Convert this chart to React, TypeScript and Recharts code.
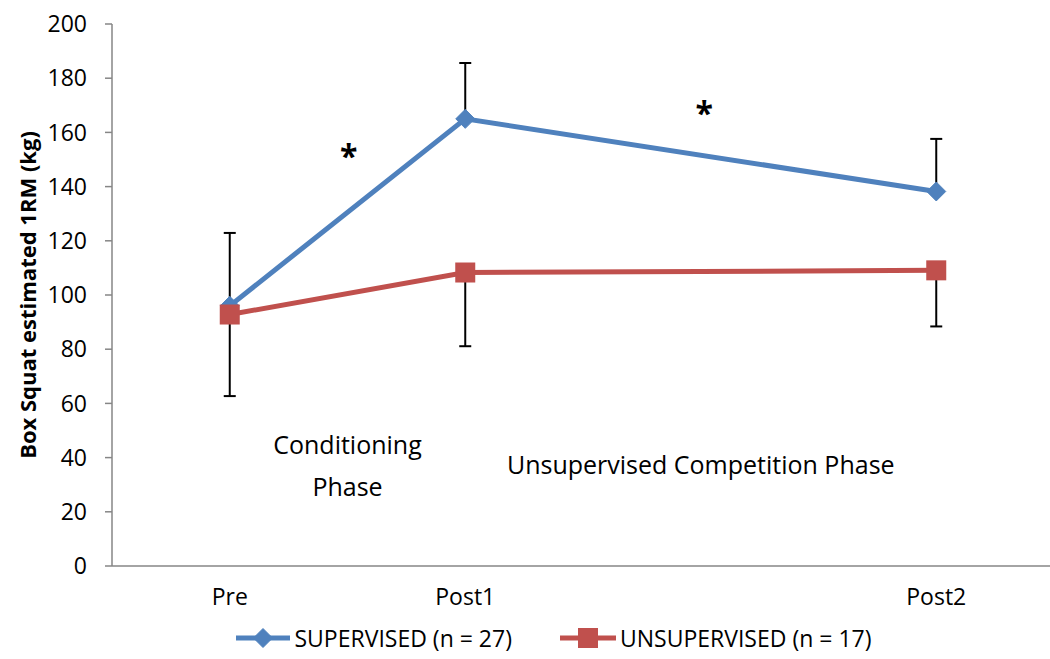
import React from 'react';
import { ComposedChart, Line, XAxis, YAxis, ErrorBar, ReferenceDot, Legend } from 'recharts';

const categories = ['Pre', 'Post1', '', 'Post2'];
const categoryIndex = [0, 1, 3];
const supervised = [96, 165, 138.2];
const supervisedSD = [26.9, 20.6, 19.4];
const unsupervised = [92.8, 108.3, 109.1];
const unsupervisedSD = [30.1, 27.2, 20.7];
const yTicks = [0, 20, 40, 60, 80, 100, 120, 140, 160, 180, 200];
const boundaryTicks = [-0.5, 0.5, 1.5, 2.5, 3.5];
const labelTicks = [0, 1, 2, 3];

const annotationX = [0.505, 2.015, 0.5, 0.5, 2.0];
const annotationY = [153, 169, 45, 29.5, 37.6];
const annotationText = ['*', '*', 'Conditioning', 'Phase', 'Unsupervised Competition Phase'];
const annotationBold = [true, true, false, false, false];

const FONT = '"Open Sans", sans-serif';
const BLUE = '#4F81BD';
const RED = '#C0504D';
const AXIS = '#868686';

const rows = categoryIndex.map((x, i) => ({
  x,
  sup: supervised[i],
  supErr: [0, supervisedSD[i]],
  unsup: unsupervised[i],
  unsupErr: [unsupervisedSD[i], 0],
}));

const Diamond = (props: any) => {
  const { cx, cy } = props;
  if (cx == null || cy == null) return null;
  const r = 9.5;
  return <polygon points={`${cx},${cy - r} ${cx + r},${cy} ${cx},${cy + r} ${cx - r},${cy}`} fill={BLUE} stroke={BLUE} strokeWidth={1} />;
};

const Square = (props: any) => {
  const { cx, cy } = props;
  if (cx == null || cy == null) return null;
  const h = 10;
  return <rect x={cx - h} y={cy - h} width={2 * h} height={2 * h} fill={RED} />;
};

const LegendContent = () => (
  <div style={{ display: 'flex', justifyContent: 'center', alignItems: 'center', fontFamily: FONT, fontSize: 23, color: '#000', paddingLeft: 52, paddingTop: 5 }}>
    <svg width={58} height={22}>
      <line x1={2} y1={11} x2={56} y2={11} stroke={BLUE} strokeWidth={5} />
      <Diamond cx={29} cy={11} />
    </svg>
    <span style={{ marginLeft: 2 }}>SUPERVISED (n = 27)</span>
    <svg width={60} height={22} style={{ marginLeft: 46 }}>
      <line x1={2} y1={11} x2={58} y2={11} stroke={RED} strokeWidth={5} />
      <Square cx={30} cy={11} />
    </svg>
    <span style={{ marginLeft: 2 }}>UNSUPERVISED (n = 17)</span>
  </div>
);

const YLabel = (props: any) => {
  const vb = props.viewBox || {};
  const cx = vb.x + 27;
  const cy = vb.y + vb.height / 2;
  return (
    <text x={cx} y={cy} transform={`rotate(-90, ${cx}, ${cy})`} textAnchor="middle" dominantBaseline="central" fontFamily={FONT} fontSize={22} fontWeight="bold" fill="#000">
      Box Squat estimated 1RM (kg)
    </text>
  );
};

const makeAnnotation = (i: number) => (props: any) => {
  const { cx, cy } = props;
  const bold = annotationBold[i];
  return (
    <text x={cx} y={cy} textAnchor="middle" dominantBaseline="central" dy={bold ? 4 : 0} fontFamily={FONT} fontSize={bold ? 32 : 25} fontWeight={bold ? 'bold' : 'normal'} fill="#000">
      {annotationText[i]}
    </text>
  );
};

export default function App() {
  return (
    <div style={{ position: 'absolute', left: 0, top: 0, width: 1050, height: 659, overflow: 'hidden', background: '#fff' }}>
      <ComposedChart width={1060} height={659} data={rows} margin={{ top: 24, right: 6, bottom: 0, left: 0 }} style={{ fontFamily: FONT }}>
        <XAxis xAxisId="grid" type="number" dataKey="x" domain={[-0.5, 3.5]} ticks={boundaryTicks} tick={false} tickSize={7} height={7} axisLine={{ stroke: AXIS, strokeWidth: 1.5 }} tickLine={{ stroke: AXIS, strokeWidth: 1.5 }} allowDataOverflow />
        <XAxis xAxisId="labels" type="number" dataKey="x" domain={[-0.5, 3.5]} ticks={labelTicks} tickFormatter={(v: number) => categories[v] ?? ''} axisLine={false} tickLine={false} height={44} tickMargin={10} tick={{ fontSize: 23, fill: '#000', fontFamily: FONT }} allowDataOverflow />
        <YAxis type="number" domain={[0, 200]} ticks={yTicks} width={112} tickSize={7} tickMargin={18} axisLine={{ stroke: AXIS, strokeWidth: 1.5 }} tickLine={{ stroke: AXIS, strokeWidth: 1.5 }} tick={{ fontSize: 23, fill: '#000', fontFamily: FONT }} label={<YLabel />} interval={0} />
        <Legend verticalAlign="bottom" height={42} content={<LegendContent />} />
        <Line xAxisId="grid" dataKey="sup" stroke={BLUE} strokeWidth={5} dot={<Diamond />} activeDot={false} isAnimationActive={false}>
          <ErrorBar dataKey="supErr" direction="y" width={6} stroke="#000" strokeWidth={2} isAnimationActive={false} />
        </Line>
        <Line xAxisId="grid" dataKey="unsup" stroke={RED} strokeWidth={5} dot={<Square />} activeDot={false} isAnimationActive={false}>
          <ErrorBar dataKey="unsupErr" direction="y" width={6} stroke="#000" strokeWidth={2} isAnimationActive={false} />
        </Line>
        {annotationText.map((t, i) => (
          <ReferenceDot key={i} xAxisId="grid" x={annotationX[i]} y={annotationY[i]} r={0} shape={makeAnnotation(i)} ifOverflow="visible" />
        ))}
      </ComposedChart>
    </div>
  );
}
